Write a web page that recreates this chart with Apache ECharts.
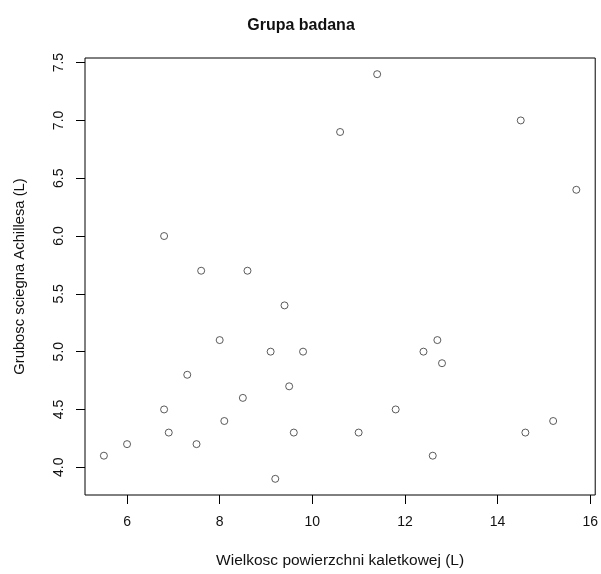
<!DOCTYPE html>
<html>
<head>
<meta charset="utf-8">
<script src="https://cdn.jsdelivr.net/npm/echarts@6/dist/echarts.min.js"></script>
<style>html,body{margin:0;padding:0;background:#fff;}#c{width:601px;height:574px;}</style>
</head>
<body>
<div id="c"></div>
<script>
var xValues = [5.5, 6.0, 6.8, 6.9, 6.8, 7.3, 7.5, 7.6, 8.0, 8.1, 8.5, 8.6, 9.1, 9.2, 9.4, 9.5, 9.6, 9.8, 10.6, 11.0, 11.4, 11.8, 12.4, 12.6, 12.7, 12.8, 14.5, 14.6, 15.2, 15.7];
var yValues = [4.1, 4.2, 4.5, 4.3, 6.0, 4.8, 4.2, 5.7, 5.1, 4.4, 4.6, 5.7, 5.0, 3.9, 5.4, 4.7, 4.3, 5.0, 6.9, 4.3, 7.4, 4.5, 5.0, 4.1, 5.1, 4.9, 7.0, 4.3, 4.4, 6.4];
var xTicks = [6, 8, 10, 12, 14, 16];
var yTicks = [4.0, 4.5, 5.0, 5.5, 6.0, 6.5, 7.0, 7.5];
var titleText = 'Grupa badana';
var xName = 'Wielkosc powierzchni kaletkowej (L)';
var yName = 'Grubosc sciegna Achillesa (L)';

var points = xValues.map(function (x, i) { return [x, yValues[i]]; });
var font = 'Liberation Sans, Arial, sans-serif';
var chart = echarts.init(document.getElementById('c'), null, {renderer: 'canvas'});
chart.setOption({
  animation: false,
  backgroundColor: '#fff',
  title: {
    text: titleText, left: 296, top: 13, textAlign: 'center',
    textStyle: {fontFamily: font, fontSize: 16, fontWeight: 'bold', color: '#111'}
  },
  grid: {left: 85, right: 4, top: 58, bottom: 77, show: true, borderColor: '#000', borderWidth: 1, backgroundColor: 'transparent'},
  xAxis: {
    type: 'value', min: 5.092, max: 16.108,
    name: xName, nameLocation: 'middle', nameGap: 58,
    nameTextStyle: {fontFamily: font, fontSize: 15.5, color: '#111'},
    axisLine: {show: false},
    axisTick: {show: true, length: 9, customValues: xTicks, lineStyle: {color: '#000', width: 1}},
    axisLabel: {customValues: xTicks, margin: 20, fontFamily: font, fontSize: 14, color: '#111',
      formatter: function (v) { return String(v); }},
    splitLine: {show: false}
  },
  yAxis: {
    type: 'value', min: 3.76, max: 7.54,
    name: yName, nameLocation: 'middle', nameGap: 58,
    nameTextStyle: {fontFamily: font, fontSize: 14.8, color: '#111'},
    axisLine: {show: false},
    axisTick: {show: true, length: 9, customValues: yTicks, lineStyle: {color: '#000', width: 1}},
    axisLabel: {customValues: yTicks, rotate: 90, margin: 19, fontFamily: font, fontSize: 14, color: '#111',
      formatter: function (v) { return v.toFixed(1); }},
    splitLine: {show: false}
  },
  series: [{
    type: 'scatter', data: points, symbol: 'circle', symbolSize: 7,
    itemStyle: {color: 'rgba(0,0,0,0)', borderColor: '#333', borderWidth: 1},
    emphasis: {disabled: true}
  }]
});
</script>
</body>
</html>
